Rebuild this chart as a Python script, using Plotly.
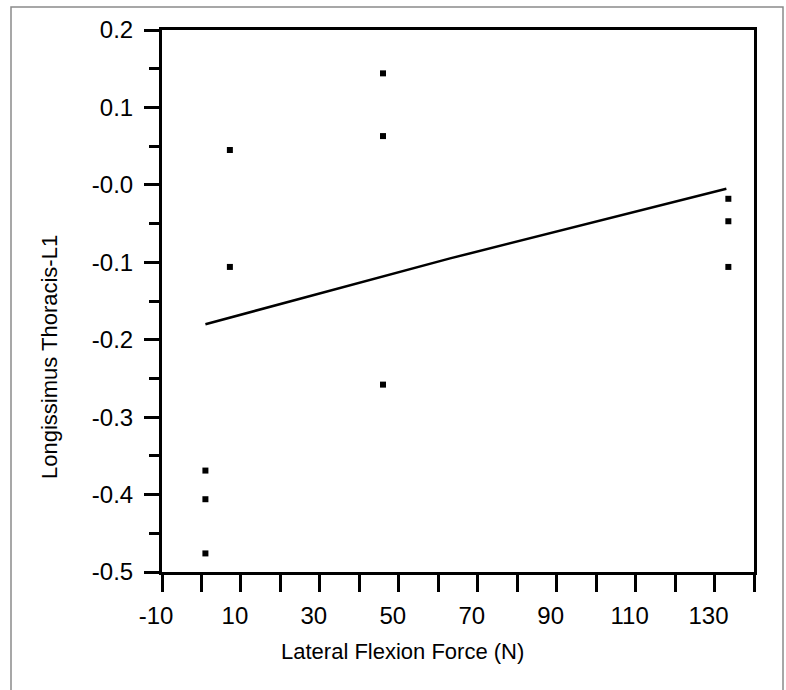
import plotly.graph_objects as go

# Data
force_x = [1, 1, 1, 7.2, 7.2, 46, 46, 46, 133.5, 133.5, 133.5]
lt_l1_y = [-0.369, -0.406, -0.476, 0.045, -0.106, 0.144, 0.063, -0.258, -0.018, -0.047, -0.106]

fit_x = [1, 63, 133]
fit_y = [-0.18, -0.095, -0.005]

x_tickvals = list(range(-10, 150, 10))
x_ticktext = [str(v) if v in (-10, 10, 30, 50, 70, 90, 110, 130) else "" for v in x_tickvals]
y_tickvals = [0.2, 0.1, 0.0, -0.1, -0.2, -0.3, -0.4, -0.5]
y_ticktext = ["0.2", "0.1", "-0.0", "-0.1", "-0.2", "-0.3", "-0.4", "-0.5"]
y_minor = [0.15, 0.05, -0.05, -0.15, -0.25, -0.35, -0.45]

FONT = "Liberation Sans, Arial, Helvetica, sans-serif"

W, H = 786, 690
L, R, T, B = 162, 32, 30, 118
pw, ph = W - L - R, H - T - B


def px_x(p):
    return (p - L) / pw


def px_y(p):
    return (H - B - p) / ph


fig = go.Figure()
fig.add_trace(go.Scatter(x=fit_x, y=fit_y, mode="lines",
                         line=dict(color="black", width=2.5), hoverinfo="skip"))
fig.add_trace(go.Scatter(x=force_x, y=lt_l1_y, mode="markers",
                         marker=dict(symbol="square", size=6, color="black")))

fig.update_layout(
    width=W, height=H,
    margin=dict(l=L, r=R, t=T, b=B),
    paper_bgcolor="white", plot_bgcolor="white",
    showlegend=False,
    font=dict(family=FONT, size=22, color="black"),
    xaxis=dict(range=[-10, 140], tickmode="array", tickvals=x_tickvals, ticktext=x_ticktext,
               ticks="outside", ticklen=17, tickwidth=3, tickcolor="black",
               showline=True, linewidth=3, linecolor="black", mirror=True,
               showgrid=False, zeroline=False, ticklabelshift=-6, ticklabelstandoff=3,
               tickfont=dict(family=FONT, size=24, color="black")),
    yaxis=dict(range=[-0.5, 0.2], tickmode="array", tickvals=y_tickvals, ticktext=y_ticktext,
               ticks="outside", ticklen=15, tickwidth=3, tickcolor="black",
               minor=dict(tickmode="array", tickvals=y_minor,
                          ticks="outside", ticklen=10, tickwidth=3, tickcolor="black", showgrid=False),
               showline=True, linewidth=3, linecolor="black", mirror=True,
               showgrid=False, zeroline=False, ticklabelstandoff=6,
               tickfont=dict(family=FONT, size=24, color="black")),
    annotations=[
        dict(text="Lateral Flexion Force (N)", xref="paper", yref="paper",
             x=px_x(402), y=px_y(651), xanchor="center", yanchor="middle",
             showarrow=False, font=dict(family=FONT, size=22, color="black")),
        dict(text="Longissimus Thoracis-L1", xref="paper", yref="paper",
             x=px_x(50), y=px_y(357), xanchor="center", yanchor="middle", textangle=-90,
             showarrow=False, font=dict(family=FONT, size=22, color="black")),
    ],
    shapes=[
        dict(type="rect", xref="paper", yref="paper",
             x0=px_x(11), x1=px_x(783), y0=px_y(695), y1=px_y(7),
             line=dict(color="#8a8a8a", width=1.5), layer="below"),
    ],
)

fig.write_html("out.html")
